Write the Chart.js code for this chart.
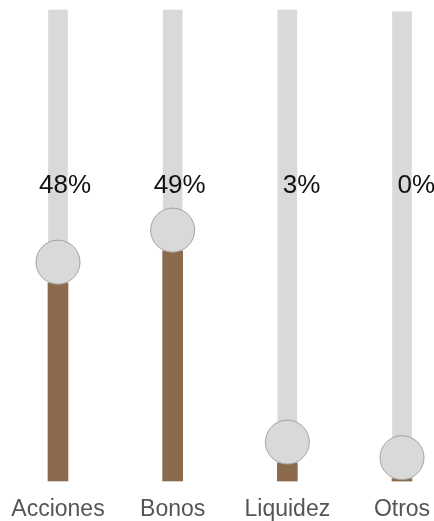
<!DOCTYPE html>
<html>
<head>
<meta charset="utf-8">
<script src="https://cdn.jsdelivr.net/npm/chart.js@4.4.1/dist/chart.umd.min.js"></script>
<style>
  html, body { margin: 0; padding: 0; background: #fff; }
  #wrap { width: 434px; height: 521px; }
</style>
</head>
<body>
<div id="wrap"><canvas id="allocChart"></canvas></div>
<script>
const categories = ['Acciones', 'Bonos', 'Liquidez', 'Otros'];
const weights = [42, 48.8, 3.8, 0.5];        // brown bar heights
const track = [100, 100, 100, 99.6];         // grey rail behind each bar
const pctLabels = ['48%', '49%', '3%', '0%'];

const knobRadius = 22;

// draws the round knob on top of each bar and the % text above
const knobPlugin = {
  id: 'knobs',
  afterDatasetsDraw(chart) {
    const { ctx, scales, chartArea } = chart;
    ctx.save();
    weights.forEach((v, i) => {
      const x = scales.x.getPixelForValue(i);
      const y = scales.y.getPixelForValue(v) - knobRadius + 1;
      ctx.beginPath();
      ctx.arc(x, y, knobRadius, 0, Math.PI * 2);
      ctx.fillStyle = '#d9d9d9';
      ctx.fill();
      ctx.lineWidth = 1;
      ctx.strokeStyle = '#a3a3a3';
      ctx.stroke();
    });
    ctx.font = '26px "Liberation Sans", Arial, sans-serif';
    ctx.fillStyle = '#111';
    ctx.textAlign = 'right';
    ctx.textBaseline = 'alphabetic';
    pctLabels.forEach((t, i) => {
      const x = scales.x.getPixelForValue(i);
      ctx.fillText(t, x + 33, chartArea.top + 183);
    });
    ctx.restore();
  }
};

const ctx = document.getElementById('allocChart').getContext('2d');

const config = {
  type: 'bar',
  data: {
    labels: categories,
    datasets: [
      {
        data: weights,
        backgroundColor: '#8c6a4d',
        barThickness: 20,
        clip: false,
        order: 1
      },
      {
        data: track,
        backgroundColor: '#d9d9d9',
        barThickness: 19,
        clip: false,
        order: 2
      }
    ]
  },
  options: {
    responsive: true,
    maintainAspectRatio: false,
    animation: false,
    layout: {
      padding: { left: 58, right: 32, top: 10, bottom: 0 }
    },
    plugins: {
      legend: { display: false },
      tooltip: { enabled: false }
    },
    scales: {
      x: {
        offset: false,
        grid: { display: false, drawTicks: false },
        border: { display: false },
        ticks: {
          padding: 17,
          maxRotation: 0,
          autoSkip: false,
          color: '#555',
          font: { family: '"Liberation Sans", Arial, sans-serif', size: 23, lineHeight: 1 }
        },
        afterFit(scale) {
          scale.height = 40;
          scale.paddingLeft = 0;
          scale.paddingRight = 0;
        }
      },
      y: {
        display: false,
        min: 0,
        max: 100
      }
    },
    datasets: {
      bar: { grouped: false }
    }
  },
  plugins: [knobPlugin]
};

const allocChart = new Chart(ctx, config);
</script>
</body>
</html>
